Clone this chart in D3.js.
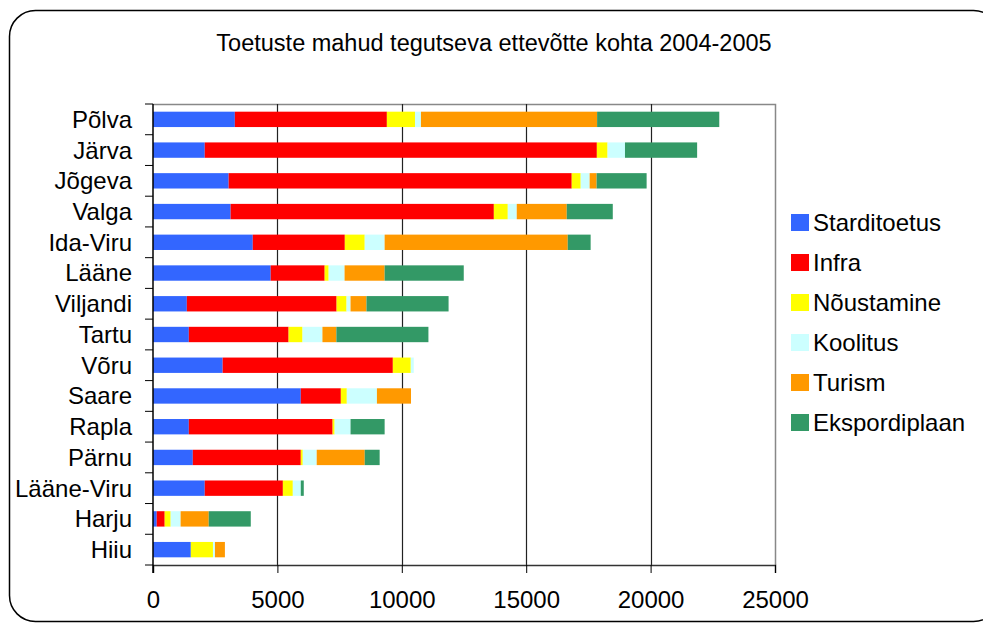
<!DOCTYPE html>
<html>
  <head>
    <meta charset="utf-8" />
    <title>Toetuste mahud</title>
    <script type="text/javascript" src="https://d3js.org/d3.v7.min.js"></script>
    <style>
      body { margin: 0; background: #fff; }
      text { font-family: "Liberation Sans", Arial, sans-serif; fill: #000; }
    </style>
  </head>
  <body>
    <div id="chart"></div>
    <script>
// data, top to bottom
const regions = ['Põlva', 'Järva', 'Jõgeva', 'Valga', 'Ida-Viru', 'Lääne', 'Viljandi', 'Tartu',
  'Võru', 'Saare', 'Rapla', 'Pärnu', 'Lääne-Viru', 'Harju', 'Hiiu'];
const seriesNames = ['Starditoetus', 'Infra', 'Nõustamine', 'Koolitus', 'Turism', 'Ekspordiplaan'];
const starditoetus = [3290, 2080, 3040, 3120, 4010, 4730, 1360, 1440, 2800, 5940, 1440, 1600, 2080, 150, 1520];
const infra =        [6110, 15760, 13790, 10580, 3700, 2170, 6020, 4010, 6840, 1610, 5780, 4340, 3140, 320, 0];
const noustamine =   [1130, 430, 360, 560, 800, 160, 400, 560, 720, 240, 80, 80, 400, 240, 890];
const koolitus =     [240, 700, 360, 360, 800, 640, 160, 800, 120, 1210, 640, 560, 320, 400, 80];
const turism =       [7080, 0, 280, 2010, 7360, 1610, 640, 560, 0, 1370, 0, 1930, 0, 1130, 400];
const ekspordiplaan =[4910, 2900, 2010, 1850, 920, 3180, 3300, 3700, 0, 0, 1370, 600, 120, 1690, 0];
const xTicks = [0, 5000, 10000, 15000, 20000, 25000];
const colors = ['#3366ff', '#ff0000', '#ffff00', '#ccffff', '#ff9900', '#339966'];

const W = 983, H = 623;
const svg = d3.select('#chart').append('svg').attr('width', W).attr('height', H);

// outer rounded frame
svg.append('rect')
  .attr('x', 9.5).attr('y', 10.5).attr('width', 990).attr('height', 611)
  .attr('rx', 26).attr('ry', 26)
  .attr('fill', 'none').attr('stroke', '#000').attr('stroke-width', 1.5);

svg.append('text')
  .attr('x', 494).attr('y', 51)
  .attr('text-anchor', 'middle')
  .style('font-size', '23.5px')
  .text('Toetuste mahud tegutseva ettevõtte kohta 2004-2005');

const pLeft = 153, pRight = 775, pTop = 104, pBottom = 565;

const x = d3.scaleLinear().domain([0, 25000]).range([pLeft, pRight]);
const y = d3.scaleBand().domain(regions).range([pTop, pBottom]).paddingInner(0.5).paddingOuter(0.25);

const rows = regions.map((r, i) => ({
  region: r,
  Starditoetus: starditoetus[i], Infra: infra[i], 'Nõustamine': noustamine[i],
  Koolitus: koolitus[i], Turism: turism[i], Ekspordiplaan: ekspordiplaan[i]
}));
const stacked = d3.stack().keys(seriesNames)(rows);

// plot frame (grey top and right)
svg.append('path')
  .attr('d', `M${pLeft},${pTop + 0.5}H${pRight + 0.5}V${pBottom}`)
  .attr('fill', 'none').attr('stroke', '#888').attr('stroke-width', 1.5);

// vertical gridlines
svg.append('g')
  .selectAll('line')
  .data(xTicks.slice(1, -1))
  .join('line')
  .attr('x1', d => Math.round(x(d)) + 0.5).attr('x2', d => Math.round(x(d)) + 0.5)
  .attr('y1', pTop).attr('y2', pBottom)
  .attr('stroke', '#222').attr('stroke-width', 1.2);

// bars
svg.append('g')
  .selectAll('g')
  .data(stacked)
  .join('g')
  .attr('fill', (d, i) => colors[i])
  .selectAll('rect')
  .data(d => d)
  .join('rect')
  .attr('x', d => x(d[0]))
  .attr('y', d => y(d.data.region))
  .attr('width', d => x(d[1]) - x(d[0]))
  .attr('height', y.bandwidth());

// x axis
const xAxis = svg.append('g')
  .attr('transform', `translate(0,${pBottom})`)
  .call(d3.axisBottom(x).tickValues(xTicks).tickFormat(d3.format('d')).tickSize(8).tickPadding(18));
xAxis.select('.domain').attr('stroke', '#333').attr('stroke-width', 1.5);
xAxis.selectAll('.tick line').attr('stroke', '#000');
xAxis.selectAll('.tick text')
  .style('font-size', '24px')
  .style('font-family', '"Liberation Sans", Arial, sans-serif')
  .attr('fill', '#000');

// y axis: ticks at category boundaries, labels at band centres
const yAxis = svg.append('g').attr('transform', `translate(${pLeft},0)`);
yAxis.append('line')
  .attr('x1', 0).attr('x2', 0).attr('y1', pTop).attr('y2', pBottom + 8)
  .attr('stroke', '#000').attr('stroke-width', 1.5);
const step = y.step();
yAxis.selectAll('line.tk')
  .data(d3.range(regions.length + 1))
  .join('line')
  .attr('class', 'tk')
  .attr('x1', -8).attr('x2', 0)
  .attr('y1', i => pTop + i * step).attr('y2', i => pTop + i * step)
  .attr('stroke', '#000');
yAxis.selectAll('text')
  .data(regions)
  .join('text')
  .attr('x', -21)
  .attr('y', d => y(d) + y.bandwidth() / 2)
  .attr('dy', '0.35em')
  .attr('text-anchor', 'end')
  .style('font-size', '24px')
  .text(d => d);

// legend
const legend = svg.append('g').attr('transform', 'translate(791,214)');
const li = legend.selectAll('g')
  .data(seriesNames)
  .join('g')
  .attr('transform', (d, i) => `translate(0,${i * 40})`);
li.append('rect').attr('width', 18).attr('height', 17).attr('fill', (d, i) => colors[i]);
li.append('text').attr('x', 22).attr('y', 8.5).attr('dy', '0.35em')
  .style('font-size', '24px').text(d => d);
    </script>
  </body>
</html>
